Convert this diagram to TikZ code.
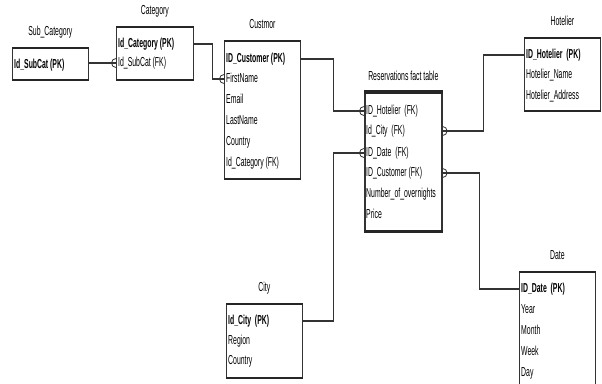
\documentclass[tikz,border=0pt]{standalone}
\usepackage{fontspec}
\setmainfont{Liberation Sans}[FakeStretch=0.53]
\usetikzlibrary{positioning,calc}

\tikzset{
  tbl/.style={draw=black!80, line width=0.8pt, anchor=north west, inner sep=0pt},
  ttl/.style={font=\fontsize{13}{15}\selectfont, inner sep=0pt, text height=9.5pt, text depth=2.7pt},
  row/.style={font=\fontsize{13}{15}\selectfont, anchor=west, inner sep=0pt, text height=9.5pt, text depth=2.7pt},
  pk/.style={row, font=\fontsize{13}{15}\selectfont\bfseries},
  link/.style={draw=black!80, line width=1.3pt},
  rim/.style={draw=black!85, line width=2pt},
}
\newcommand{\manyleft}[1]{\draw[black!80, line width=0.8pt] ($(#1)+(0,4.5)$) arc[start angle=90, end angle=270, radius=4.5];}
\newcommand{\manyright}[1]{\draw[black!80, line width=0.8pt] ($(#1)+(0,4.5)$) arc[start angle=90, end angle=-90, radius=4.5];}

\begin{document}
\begin{tikzpicture}[x=1pt, y=-1pt]
  \useasboundingbox (0,0) rectangle (602,383);

  % tables
  \node[tbl, minimum width=76, minimum height=31] (subcat) at (12,48) {};
  \node[tbl, minimum width=77, minimum height=52] (cat) at (116,27) {};
  \node[tbl, minimum width=76, minimum height=137] (cust) at (224,41) {};
  \node[tbl, minimum width=77, minimum height=138, line width=1.6pt] (fact) at (364,92) {};
  \node[tbl, minimum width=76, minimum height=72] (hot) at (524,38) {};
  \node[tbl, minimum width=76, minimum height=120] (date) at (519,272) {};
  \node[tbl, minimum width=76, minimum height=73] (city) at (226,304) {};

  \foreach \b in {subcat,cat,cust,hot,date,city}
    \draw[rim] (\b.north west) -- (\b.north east) (\b.south west) -- (\b.south east);
  \draw[rim, line width=3.5pt] (fact.north west) -- (fact.north east) (fact.south west) -- (fact.south east);

  % titles
  \node[ttl, above=9.5pt of subcat] (subcatT) {Sub\_Category};
  \node[ttl, above=9.5pt of cat] (catT) {Category};
  \node[ttl, above=9.5pt of cust] (custT) {Custmor};
  \node[ttl, above=8.5pt of fact] (factT) {Reservations fact table};
  \node[ttl, above=9.5pt of hot] (hotT) {Hotelier};
  \node[ttl, above=9.5pt of date] (dateT) {Date};
  \node[ttl, above=9.5pt of city] (cityT) {City};

  % rows
  \node[pk] (subcat1) at (14,65) {Id\_SubCat (PK)};

  \node[pk] (cat1) at (118,44) {Id\_Category (PK)};
  \node[row] (cat2) at (118,63) {Id\_SubCat (FK)};

  \node[pk] (cust1) at (226,59) {ID\_Customer (PK)};
  \node[row] (cust2) at (226,79) {FirstName};
  \node[row] (cust3) at (226,100) {Email};
  \node[row] (cust4) at (226,121) {LastName};
  \node[row] (cust5) at (226,142) {Country};
  \node[row] (cust6) at (226,163) {Id\_Category (FK)};

  \node[row] (fact1) at (366,111) {ID\_Hotelier\ \ (FK)};
  \node[row] (fact2) at (366,131) {Id\_City\ \ (FK)};
  \node[row] (fact3) at (366,153) {ID\_Date\ \ (FK)};
  \node[row] (fact4) at (366,173) {ID\_Customer (FK)};
  \node[row] (fact5) at (366,194) {Number\_of\_overnights};
  \node[row] (fact6) at (366,215) {Price};

  \node[pk] (hot1) at (526,55) {ID\_Hotelier\ \ (PK)};
  \node[row] (hot2) at (526,75) {Hotelier\_Name};
  \node[row] (hot3) at (526,96) {Hotelier\_Address};

  \node[pk] (date1) at (521,289) {ID\_Date\ \ (PK)};
  \node[row] (date2) at (521,310) {Year};
  \node[row] (date3) at (521,331) {Month};
  \node[row] (date4) at (521,352) {Week};
  \node[row] (date5) at (521,373) {Day};

  \node[pk] (city1) at (228,321) {Id\_City\ \ (PK)};
  \node[row] (city2) at (228,341) {Region};
  \node[row] (city3) at (228,361) {Country};

  % links
  \draw[link] (subcat.east |- cat2) -- (cat.west |- cat2);
  \draw[link] (cat.east |- cat1) -- ++(19,0) |- (cust.west |- cust2);
  \draw[link] (cust.east |- cust1) -- ++(33,0) |- (fact.west |- fact1);
  \draw[link] (city.east |- city1) -- ++(31,0) |- (fact.west |- fact3);
  \draw[link] (fact.east |- fact2) -- ++(41,0) |- (hot.west |- hot1);
  \draw[link] (fact.east |- fact4) -- ++(37,0) |- (date.west |- date1);

  \manyleft{cat.west |- cat2}
  \manyleft{cust.west |- cust2}
  \manyleft{fact.west |- fact1}
  \manyleft{fact.west |- fact3}
  \manyright{fact.east |- fact2}
  \manyright{fact.east |- fact4}
\end{tikzpicture}
\end{document}
